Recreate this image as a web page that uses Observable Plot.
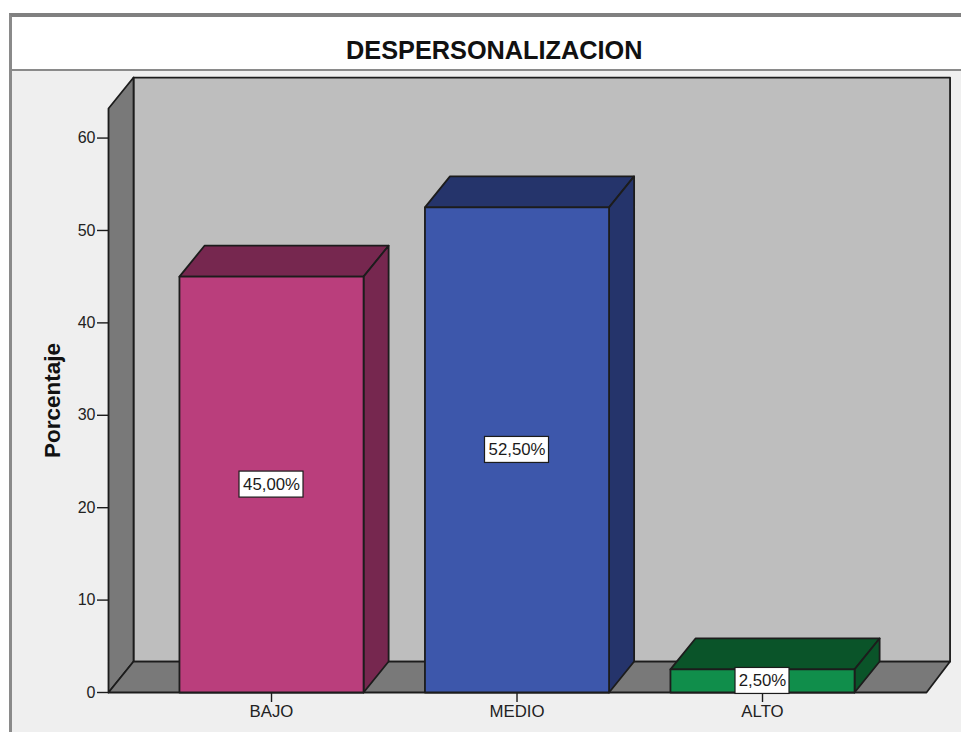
<!DOCTYPE html>
<html>
<head>
<meta charset="utf-8">
<script src="https://cdn.jsdelivr.net/npm/d3@7"></script>
<script src="https://cdn.jsdelivr.net/npm/@observablehq/plot@0.6"></script>
<style>
  html, body { margin: 0; background: #fff; overflow: hidden; }
  #panel { position: absolute; left: 9px; top: 13px; width: 952px; height: 719px; box-sizing: border-box;
           border-top: 4px solid #808080; border-left: 3px solid #8a8a8a; background: #efefef; }
  #title { position: absolute; left: 0; top: 0; right: 0; height: 52px; background: #fff; border-bottom: 2px solid #8a8a8a;
           font: bold 25.3px "Liberation Sans", Arial, sans-serif; color: #111; }
  #title span { position: absolute; left: 334px; top: 20px; line-height: 26px; white-space: nowrap; }
  #chart { position: absolute; left: 0; top: 70px; }
  #chart svg { background: transparent; display: block; }
</style>
</head>
<body>
<div id="panel"><div id="title"><span>DESPERSONALIZACION</span></div></div>
<div id="chart"></div>
<script>
// Percentage of respondents in each level
const categories = ["BAJO", "MEDIO", "ALTO"];
const values = [45, 52.5, 2.5];
const valueLabels = ["45,00%", "52,50%", "2,50%"];
const faceColors = ["#ba3e7c", "#3d57ab", "#108e4b"];
const shadeColors = ["#76274f", "#25346b", "#0a5429"];
const yTicks = [0, 10, 20, 30, 40, 50, 60];

// Extent of the box and the oblique offset of its depth, in axis units
const xMin = -0.664, xMax = 2.668, yMax = 63.2;
const xBack = 2.764;
const depthX = 0.102, depthY = 3.35;
const barHalf = 0.375;

const ink = "#1c1c1c";
const polygon = (points, fill) => Plot.line(points, {
  x: "0", y: "1", curve: "linear-closed", fill, stroke: ink, strokeWidth: 1.8, strokeLinejoin: "round"
});

// Back wall, side wall and floor of the box
const shell = [
  polygon([[xMin + depthX, depthY], [xMin + depthX, yMax + depthY], [xBack, yMax + depthY], [xBack, depthY]], "#bebebe"),
  polygon([[xMin, 0], [xMin, yMax], [xMin + depthX, yMax + depthY], [xMin + depthX, depthY]], "#797979"),
  polygon([[xMin, 0], [xMin + depthX, depthY], [xBack, depthY], [xMax, 0]], "#797979")
];

// Each bar is a front face with a top and a right side receding into the box
const bars = categories.flatMap((c, i) => {
  const l = i - barHalf, r = i + barHalf, v = values[i];
  return [
    polygon([[l, v], [l + depthX, v + depthY], [r + depthX, v + depthY], [r, v]], shadeColors[i]),
    polygon([[r, 0], [r, v], [r + depthX, v + depthY], [r + depthX, depthY]], shadeColors[i]),
    polygon([[l, 0], [l, v], [r, v], [r, 0]], faceColors[i])
  ];
});

// White value tags centred on each bar's front face
const tags = categories.flatMap((c, i) => {
  const half = valueLabels[i].length * 5 + 2;
  const datum = [{x: i, y: values[i] / 2, label: valueLabels[i]}];
  return [
    Plot.rect(datum, {
      x1: "x", x2: "x", y1: "y", y2: "y",
      insetLeft: -half, insetRight: -half, insetTop: -13, insetBottom: -13,
      fill: "#fff", stroke: ink, strokeWidth: 1.2
    }),
    Plot.text(datum, {x: "x", y: "y", text: "label", fontSize: 16.8, fill: "#1a1a1a"})
  ];
});

const chart = Plot.plot({
  width: 961,
  height: 662,
  marginTop: 38,
  marginBottom: 40,
  marginLeft: 108,
  marginRight: 35,
  style: {fontFamily: "'Liberation Sans', Arial, sans-serif", background: "transparent", overflow: "visible"},
  x: {domain: [xMin, xMax]},
  y: {domain: [0, yMax]},
  marks: [
    Plot.axisY(yTicks, {
      anchor: "left", label: null, tickSize: 11, tickPadding: 2, fontSize: 16,
      stroke: ink, strokeWidth: 1.4, fill: "#222"
    }),
    Plot.axisX(categories.map((c, i) => i), {
      anchor: "bottom", label: null, tickSize: 10, tickPadding: 3, fontSize: 16.8,
      tickFormat: i => categories[i], stroke: ink, strokeWidth: 1.4, fill: "#222"
    }),
    ...shell,
    ...bars,
    ...tags,
    Plot.text(["Porcentaje"], {
      frameAnchor: "left", textAnchor: "middle", dx: -56, rotate: -90,
      fontSize: 22.5, fontWeight: "bold", fill: "#111"
    })
  ]
});
document.getElementById("chart").appendChild(chart);
</script>
</body>
</html>
